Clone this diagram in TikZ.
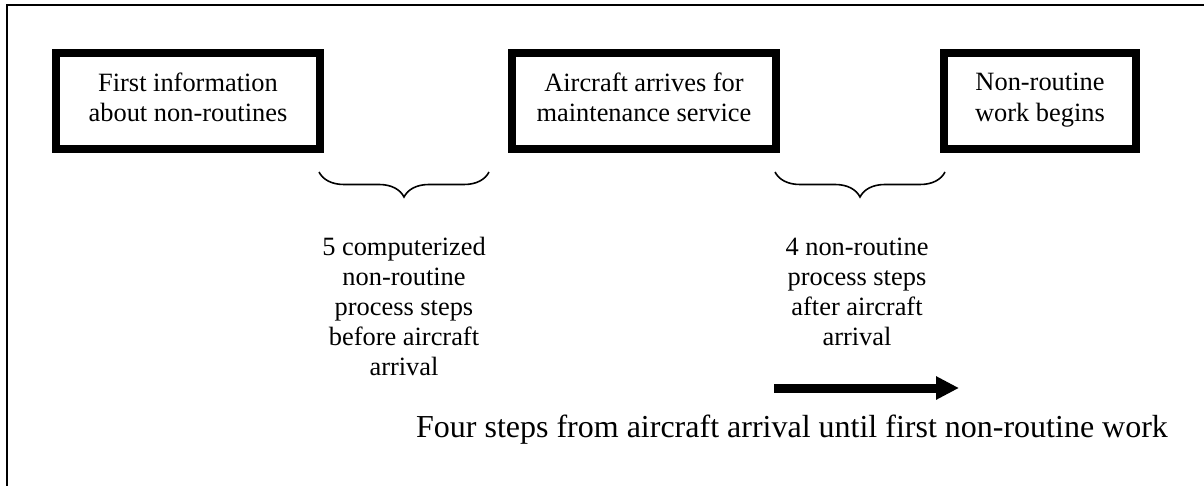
\documentclass[tikz,border=0pt]{standalone}
\usepackage{fontspec}
\setmainfont{Liberation Serif}
\usetikzlibrary{arrows.meta,decorations.pathreplacing}
\newcommand\dpfix{\rule[-3.6pt]{0pt}{0pt}}
\tikzset{
  evbox/.style={draw, line width=4pt, inner sep=0pt, align=center,
    font=\fontsize{13.2pt}{15.3pt}\selectfont, minimum height=48pt},
  note/.style={inner sep=0pt, align=center, anchor=north,
    font=\fontsize{13.2pt}{15pt}\selectfont},
  bigtext/.style={inner sep=0pt, anchor=base, font=\fontsize{16pt}{19pt}\selectfont},
  curly/.style={decorate, decoration={brace, mirror, amplitude=12.5pt}, line width=0.8pt},
  fatarrow/.style={line width=4.5pt, -{Triangle[length=11.5pt,width=11pt]}},
  frame/.style={line width=1pt}
}
\begin{document}
\begin{tikzpicture}[x=0.5pt, y=-0.5pt]
\useasboundingbox (0,0) rectangle (1204,486);
% partial frame (top and left)
\coordinate (fbl) at (6.5,486);
\coordinate (ftl) at (6.5,5.5);
\coordinate (ftr) at (1204,5.5);
\draw[frame] (fbl) -- (ftl) -- (ftr);
% event boxes
\node[evbox, minimum width=132pt] (b1) at (188,101) {First information\\about non-routines\dpfix};
\node[evbox, minimum width=132pt] (b2) at (644,101) {Aircraft arrives for\\maintenance service\dpfix};
\node[evbox, minimum width=96pt] (b3) at (1040,101) {Non-routine\\work begins\dpfix};
% braces
\coordinate (br1s) at (319,172);
\coordinate (br1e) at (489,172);
\coordinate (br2s) at (775,172);
\coordinate (br2e) at (945,172);
\draw[curly] (br1s) -- (br1e);
\draw[curly] (br2s) -- (br2e);
% brace notes
\node[note] (n1) at (404,237) {5 computerized\\non-routine\\process steps\\before aircraft\\arrival};
\node[note] (n2) at (857,238) {4 non-routine\\process steps\\after aircraft\\arrival};
% arrow
\coordinate (as) at (774,388);
\coordinate (ae) at (959,388);
\draw[fatarrow] (as) -- (ae);
% bottom caption
\node[bigtext] (cap) at (792,437) {Four steps from aircraft arrival until first non-routine work};
\end{tikzpicture}
\end{document}
